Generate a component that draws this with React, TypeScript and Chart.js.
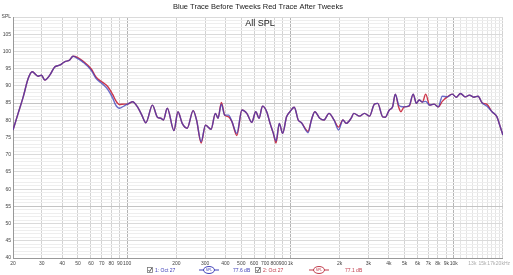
import React, { useEffect, useRef } from 'react';
import { Chart, registerables } from 'chart.js';

Chart.register(...registerables);

// Frequencies (Hz) of the read-off points
const freqs = [
  20, 21.5, 23.1, 24.8, 26.2, 28.5, 29.9, 31.3, 33.6, 36, 38.6, 41.4, 44.5, 46.6, 49.9, 53.6,
  60.3, 64.6, 70.9, 76, 81.5, 85, 89.6, 96.1, 100.7, 108, 115.7, 123, 130.2, 142.9, 153.2, 160.7,
  166.7, 176.2, 193.5, 204.7, 217.4, 233.2, 253.7, 266, 283.8, 301.8, 326.4, 347.2, 360.1, 377.7,
  395.6, 418.4, 438.2, 469.9, 504.1, 540.6, 579.8, 613.1, 643.1, 673.6, 715.4, 750.3, 785.8, 816.2,
  854.8, 895.2, 946.8, 992.8, 1055, 1115.6, 1168, 1283, 1344, 1410, 1512, 1606, 1722, 1847, 1973,
  2095, 2195, 2354, 2445, 2649, 2841, 3047, 3268, 3423, 3671, 3812, 4032, 4222, 4385, 4593, 4743,
  4974, 5335, 5642, 5909, 6137, 6430, 6734, 7121, 7574, 8045, 8508, 9122, 9786, 10351, 10993,
  11792, 12474, 13266, 14089, 14899, 15979, 17140, 18383, 19254, 20000,
];

// Blue trace: before tweaks (dB SPL)
const beforeSpl = [
  77.2, 82.0, 86.8, 92.2, 94.1, 92.8, 93.1, 91.7, 93.1, 95.5, 96.0, 97.0, 97.5, 98.6, 97.9, 96.9,
  94.5, 92.1, 90.5, 89.0, 86.5, 84.5, 83.5, 84.2, 84.7, 85.4, 83.9, 81.5, 79.3, 84.4, 80.9, 80.6,
  80.1, 83.5, 77.0, 82.5, 79.1, 77.7, 82.8, 80.1, 73.8, 78.6, 77.4, 82.0, 80.6, 84.7,
  81.5, 81.5, 79.6, 76.2, 83.0, 82.0, 79.4, 82.5, 80.6, 84.1, 82.5, 79.1, 76.2, 74.0,
  79.1, 76.2, 81.0, 82.5, 83.8, 80.1, 79.3, 76.4, 80.1, 82.5, 80.6, 80.1, 82.0, 80.1, 77.2,
  80.1, 79.1, 80.6, 82.0, 81.2, 82.0, 81.2, 84.7, 84.9, 81.0, 80.9, 83.0, 83.9, 87.6, 84.5, 84.0,
  83.9, 84.3, 87.6, 84.9, 85.9, 85.3, 85.5, 84.4, 84.7, 83.9, 87.0, 86.8, 87.6, 86.7, 87.8,
  86.8, 87.3, 86.7, 87.0, 85.1, 84.1, 82.5, 81.0, 78.1, 75.7,
];

// Red trace: after tweaks (dB SPL)
const afterSpl = [
  77.2, 82.0, 86.8, 92.2, 94.1, 92.8, 93.1, 91.7, 93.1, 95.5, 96.0, 97.0, 97.5, 98.6, 98.2, 97.2,
  94.9, 92.5, 91.0, 89.8, 87.5, 85.8, 84.6, 84.7, 84.7, 85.4, 83.9, 81.5, 79.3, 84.4, 80.9, 80.6,
  80.1, 83.5, 77.0, 82.5, 79.1, 77.7, 82.8, 80.1, 73.4, 78.6, 77.4, 82.0, 80.6, 85.2,
  81.5, 81.0, 79.6, 75.6, 83.0, 82.0, 79.4, 82.5, 80.6, 84.1, 82.5, 79.1, 76.2, 73.4,
  79.1, 76.2, 81.0, 82.5, 83.8, 80.1, 79.3, 76.8, 80.1, 82.5, 80.6, 80.1, 82.0, 80.1, 78.0,
  80.1, 79.1, 80.6, 82.0, 81.2, 82.0, 81.2, 84.7, 84.9, 81.0, 80.9, 83.0, 83.9, 87.6, 83.9, 82.5,
  83.9, 84.1, 87.6, 84.9, 85.9, 85.3, 87.6, 84.4, 84.7, 83.9, 85.5, 86.8, 87.6, 86.7, 87.8,
  86.8, 87.3, 86.7, 87.0, 85.1, 84.6, 82.5, 81.0, 78.1, 75.7,
];

const xTickValues = [
  20, 30, 40, 50, 60, 70, 80, 90, 100, 200, 300, 400, 500, 600, 700, 800, 900,
  1000, 2000, 3000, 4000, 5000, 6000, 7000, 8000, 9000, 10000,
  11000, 12000, 13000, 14000, 15000, 16000, 17000, 18000, 19000, 20000,
];
const xTickLabels: Record<number, string> = {
  20: '20', 30: '30', 40: '40', 50: '50', 60: '60', 70: '70', 80: '80', 90: '90', 100: '100',
  200: '200', 300: '300', 400: '400', 500: '500', 600: '600', 700: '700', 800: '800', 900: '900',
  1000: '1k', 2000: '2k', 3000: '3k', 4000: '4k', 5000: '5k', 6000: '6k', 7000: '7k', 8000: '8k',
  9000: '9k', 10000: '10k', 13000: '13k', 15000: '15k', 17000: '17k', 20000: '20kHz',
};

const yMin = 40;
const yMax = 110;

const titleText = 'Blue Trace Before Tweeks Red Trace After Tweeks';
const subTitleText = 'All SPL';
const legendItems = [
  { name: '1: Oct 27', level: '77.6 dB', color: '#4040b8' },
  { name: '2: Oct 27', level: '77.1 dB', color: '#c03a4a' },
];

const BLUE = 'rgba(60, 60, 185, 0.75)';
const RED = 'rgb(205, 55, 75)';

export default function App() {
  const canvasRef = useRef<HTMLCanvasElement | null>(null);

  useEffect(() => {
    const canvas = canvasRef.current;
    if (!canvas) return;

    const decorPlugin = {
      id: 'decor',
      afterDraw(chart: any) {
        const ctx = chart.ctx as CanvasRenderingContext2D;
        const area = chart.chartArea;
        ctx.save();
        // Title
        ctx.fillStyle = '#222';
        ctx.font = '7.5px Arial, "Liberation Sans", sans-serif';
        ctx.textAlign = 'center';
        ctx.textBaseline = 'middle';
        ctx.fillText(titleText, (area.left + area.right) / 2, 7);
        // Sub title inside plot
        ctx.font = '9px Arial, "Liberation Sans", sans-serif';
        ctx.fillStyle = '#222';
        ctx.fillText(subTitleText, 260, 24);

        // Legend
        const ly = 270;
        ctx.font = '5px Arial, "Liberation Sans", sans-serif';
        ctx.textAlign = 'left';
        const pos = [
          { box: 150, name: 155, badge: 209, level: 233 },
          { box: 258, name: 263, badge: 319, level: 345 },
        ];
        legendItems.forEach((it, i) => {
          const p = pos[i];
          // checkbox
          ctx.fillStyle = '#fff';
          ctx.strokeStyle = '#777';
          ctx.lineWidth = 0.8;
          ctx.fillRect(p.box - 2.5, ly - 2.5, 5, 5);
          ctx.strokeRect(p.box - 2.5, ly - 2.5, 5, 5);
          ctx.strokeStyle = '#333';
          ctx.beginPath();
          ctx.moveTo(p.box - 1.5, ly);
          ctx.lineTo(p.box - 0.3, ly + 1.5);
          ctx.lineTo(p.box + 1.8, ly - 2);
          ctx.stroke();
          ctx.fillStyle = it.color;
          ctx.fillText(it.name, p.name, ly + 0.5);
          // badge
          ctx.strokeStyle = it.color;
          ctx.lineWidth = 1;
          ctx.beginPath();
          ctx.moveTo(p.badge - 10, ly);
          ctx.lineTo(p.badge + 10, ly);
          ctx.stroke();
          ctx.fillStyle = '#fff';
          ctx.beginPath();
          ctx.ellipse(p.badge, ly, 5.5, 3.5, 0, 0, Math.PI * 2);
          ctx.fill();
          ctx.stroke();
          ctx.fillStyle = it.color;
          ctx.font = '3.5px Arial, sans-serif';
          ctx.textAlign = 'center';
          ctx.fillText('SPL', p.badge, ly + 0.3);
          ctx.textAlign = 'left';
          ctx.font = '5px Arial, "Liberation Sans", sans-serif';
          ctx.fillText(it.level, p.level, ly + 0.5);
        });
        ctx.restore();
      },
    };

    const chart = new Chart(canvas, {
      type: 'line',
      data: {
        datasets: [
          {
            label: 'Before',
            data: freqs.map((f, i) => ({ x: f, y: beforeSpl[i] })),
            borderColor: BLUE,
            borderWidth: 1.4,
            pointRadius: 0,
            cubicInterpolationMode: 'monotone',
            fill: false,
          },
          {
            label: 'After',
            data: freqs.map((f, i) => ({ x: f, y: afterSpl[i] })),
            borderColor: RED,
            borderWidth: 1.4,
            pointRadius: 0,
            cubicInterpolationMode: 'monotone',
            fill: false,
          },
        ],
      },
      options: {
        responsive: false,
        animation: false,
        devicePixelRatio: 1,
        layout: { padding: { top: 17, right: 7, left: 0, bottom: 0 } },
        plugins: {
          legend: { display: false },
          title: { display: false },
          tooltip: { enabled: false },
        },
        scales: {
          x: {
            type: 'logarithmic',
            min: 20,
            max: 20000,
            afterBuildTicks: (scale: any) => {
              scale.ticks = xTickValues.map((v) => ({ value: v }));
            },
            afterFit: (scale: any) => {
              scale.height = 17;
            },
            ticks: {
              autoSkip: false,
              maxRotation: 0,
              minRotation: 0,
              padding: 3,
              font: { size: 5, family: 'Arial, "Liberation Sans", sans-serif' },
              color: (ctx: any) => (ctx.tick && ctx.tick.value > 10000 ? '#aaa' : '#444'),
              callback: (value: any) => xTickLabels[Number(value)] ?? '',
            },
            grid: {
              drawTicks: false,
              lineWidth: 1,
              color: (ctx: any) => {
                const v = ctx.tick ? ctx.tick.value : 0;
                if (v === 100 || v === 1000 || v === 10000) return '#b4b4b4';
                if (v > 10000 && v < 20000) return '#e4e4e4';
                return '#d2d2d2';
              },
            },
            border: { color: '#999', width: 1 },
          },
          y: {
            type: 'linear',
            min: yMin,
            max: yMax,
            afterBuildTicks: (scale: any) => {
              const t = [];
              for (let v = yMin; v <= yMax; v++) t.push({ value: v });
              scale.ticks = t;
            },
            afterFit: (scale: any) => {
              scale.width = 13;
            },
            ticks: {
              autoSkip: false,
              padding: 2,
              font: { size: 5, family: 'Arial, "Liberation Sans", sans-serif' },
              color: '#444',
              callback: (value: any) => {
                const v = Number(value);
                if (v === yMax) return 'SPL';
                return v % 5 === 0 ? String(v) : '';
              },
            },
            grid: {
              drawTicks: false,
              lineWidth: 1,
              color: (ctx: any) => {
                const v = ctx.tick ? ctx.tick.value : 0;
                if (v === 55 || v === 85) return '#c4c4c4';
                if (v % 5 === 0) return '#dadada';
                return '#eeeeee';
              },
            },
            border: { color: '#999', width: 1 },
          },
        },
      },
      plugins: [decorPlugin],
    } as any);

    return () => {
      chart.destroy();
    };
  }, []);

  return (
    <div style={{ position: 'fixed', left: 0, top: 0, width: 513, height: 275, background: '#fff' }}>
      <canvas ref={canvasRef} width={513} height={275} style={{ display: 'block', width: 513, height: 275 }} />
    </div>
  );
}
